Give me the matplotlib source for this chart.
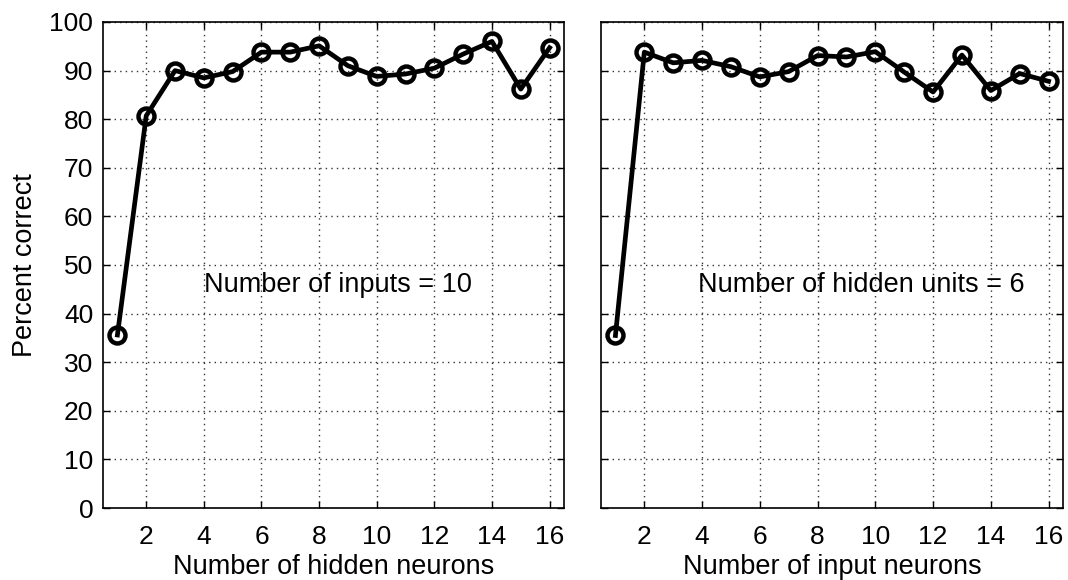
import matplotlib.pyplot as plt
import numpy as np

plt.rcParams['font.family'] = ['Liberation Sans', 'DejaVu Sans']

# number of hidden neurons (left) / input neurons (right)
n_units = np.arange(1, 17)
pct_hidden = [35.6, 80.7, 90.0, 88.5, 89.8, 93.8, 93.8, 95.1,
              91.0, 88.8, 89.3, 90.5, 93.4, 96.0, 86.2, 94.7]
pct_input = [35.5, 93.8, 91.6, 92.1, 90.8, 88.7, 89.8, 93.1,
             92.8, 93.9, 89.7, 85.6, 93.2, 85.9, 89.4, 87.8]

x_ticks = [2, 4, 6, 8, 10, 12, 14, 16]
y_ticks = list(range(0, 101, 10))

fig = plt.figure(figsize=(10.68, 5.8), dpi=100)
ax1 = fig.add_axes([103 / 1068, 1 - 508 / 580, 461 / 1068, 486 / 580])
ax2 = fig.add_axes([601 / 1068, 1 - 508 / 580, 462 / 1068, 486 / 580])

panels = [
    (ax1, pct_hidden, 'Number of hidden neurons', 'Number of inputs = 10', 8.67),
    (ax2, pct_input, 'Number of input neurons', 'Number of hidden units = 6', 9.52),
]

for ax, vals, xlabel, note, note_x in panels:
    ax.plot(n_units, vals, color='black', lw=3.4, marker='o', ms=11.5,
            mfc='none', mec='black', mew=3.2)
    ax.set_xlim(0.5, 16.5)
    ax.set_ylim(0, 100)
    ax.set_xticks(x_ticks)
    ax.set_yticks(y_ticks)
    ax.grid(True, linestyle=(0, (1, 3)), color='#333333', lw=1)
    ax.tick_params(direction='in', top=True, right=True, length=5,
                   labelsize=19, pad=7, width=1)
    ax.tick_params(axis='x', pad=12)
    for s in ax.spines.values():
        s.set_linewidth(1.2)
    ax.set_xlabel(xlabel, fontsize=19.5, labelpad=4)
    ax.text(note_x, 45.9, note, fontsize=19.5, ha='center', va='center')

ax1.set_ylabel('Percent correct', fontsize=19.5, labelpad=8)
ax2.set_yticklabels([])

fig.savefig('out.png', dpi=100)
